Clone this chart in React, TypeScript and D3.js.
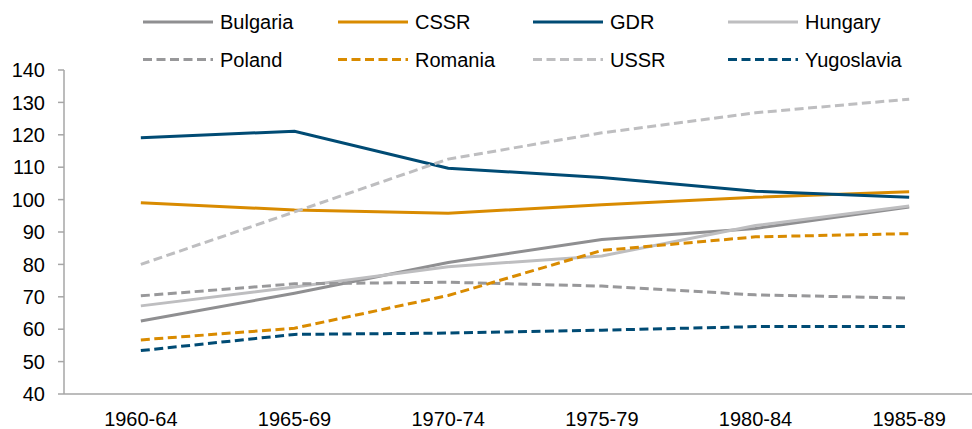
import React, { useEffect, useRef } from 'react';
import * as d3 from 'd3';

const periods = ['1960-64', '1965-69', '1970-74', '1975-79', '1980-84', '1985-89'];
const countries = ['Bulgaria', 'CSSR', 'GDR', 'Hungary', 'Poland', 'Romania', 'USSR', 'Yugoslavia'];

const bulgaria = [62.5, 71.1, 80.6, 87.7, 91.1, 97.7];
const cssr = [99.0, 96.8, 95.8, 98.4, 100.7, 102.4];
const gdr = [119.1, 121.1, 109.7, 106.8, 102.6, 100.7];
const hungary = [67.2, 73.0, 79.3, 82.6, 92.0, 98.0];
const poland = [70.3, 74.0, 74.5, 73.3, 70.6, 69.6];
const romania = [56.7, 60.3, 70.4, 84.3, 88.5, 89.5];
const ussr = [80.0, 96.2, 112.5, 120.6, 126.8, 131.0];
const yugoslavia = [53.4, 58.4, 58.8, 59.7, 60.8, 60.8];

const yTicks = [40, 50, 60, 70, 80, 90, 100, 110, 120, 130, 140];

const seriesValues = [bulgaria, cssr, gdr, hungary, poland, romania, ussr, yugoslavia];
const seriesColors = ['#8f8f91', '#d98b00', '#004b74', '#bebec0', '#98989a', '#d98b00', '#bebec0', '#004b74'];
const seriesDashed = [false, false, false, false, true, true, true, true];

export default function App() {
    const chartRef = useRef<SVGSVGElement | null>(null);

    const width = 972;
    const height = 429;
    const margin = { top: 70, bottom: 35, left: 64, right: -14 };
    const font = "'Liberation Sans', Arial, sans-serif";

    useEffect(() => {
        const svg = d3.select(chartRef.current);
        svg.selectAll('*').remove();

        // Scales
        const xScale = d3.scaleBand<string>()
            .domain(periods)
            .range([margin.left, width - margin.right]);
        const yScale = d3.scaleLinear()
            .domain([40, 140])
            .range([height - margin.bottom, margin.top]);

        const xMid = (p: string) => (xScale(p) as number) + xScale.bandwidth() / 2;
        const baseY = yScale(40);

        // y axis
        const yAxis = svg.append('g');
        yAxis.append('line')
            .attr('x1', margin.left).attr('x2', margin.left)
            .attr('y1', yScale(140)).attr('y2', baseY)
            .attr('stroke', '#a6a6a6').attr('stroke-width', 1.5);
        yTicks.forEach(t => {
            yAxis.append('line')
                .attr('x1', margin.left - 6).attr('x2', margin.left)
                .attr('y1', yScale(t)).attr('y2', yScale(t))
                .attr('stroke', '#a6a6a6').attr('stroke-width', 1.5);
            yAxis.append('text')
                .attr('x', margin.left - 19)
                .attr('y', yScale(t))
                .attr('dy', '0.36em')
                .attr('text-anchor', 'end')
                .style('font-family', font)
                .style('font-size', '20px')
                .attr('fill', '#000')
                .text(t);
        });

        // x axis
        svg.append('line')
            .attr('x1', margin.left).attr('x2', width)
            .attr('y1', baseY).attr('y2', baseY)
            .attr('stroke', '#a6a6a6').attr('stroke-width', 1.5);
        periods.forEach(p => {
            svg.append('text')
                .attr('x', xMid(p))
                .attr('y', baseY + 32)
                .attr('text-anchor', 'middle')
                .style('font-family', font)
                .style('font-size', '20px')
                .attr('fill', '#000')
                .text(p);
        });

        // lines
        const line = d3.line<number>()
            .x((d, i) => xMid(periods[i]))
            .y(d => yScale(d));

        seriesValues.forEach((vals, i) => {
            svg.append('path')
                .datum(vals)
                .attr('d', line)
                .attr('fill', 'none')
                .attr('stroke', seriesColors[i])
                .attr('stroke-width', 3)
                .attr('stroke-dasharray', seriesDashed[i] ? '9,4.5' : null);
        });

        // legend
        const legend = svg.append('g');
        countries.forEach((name, i) => {
            const col = i % 4;
            const row = Math.floor(i / 4);
            const lx = 143 + col * 195;
            const ly = 22 + row * 37.5;
            legend.append('line')
                .attr('x1', lx).attr('x2', lx + 70)
                .attr('y1', ly).attr('y2', ly)
                .attr('stroke', seriesColors[i])
                .attr('stroke-width', 3)
                .attr('stroke-dasharray', seriesDashed[i] ? '9,4.5' : null);
            legend.append('text')
                .attr('x', lx + 77)
                .attr('y', ly)
                .attr('dy', '0.36em')
                .style('font-family', font)
                .style('font-size', '20px')
                .attr('fill', '#000')
                .text(name);
        });
    });

    return (
        <svg ref={chartRef}
            width={width}
            height={height}
            style={{ position: 'absolute', left: 0, top: 0, background: '#fff' }}>
        </svg>
    );
}
